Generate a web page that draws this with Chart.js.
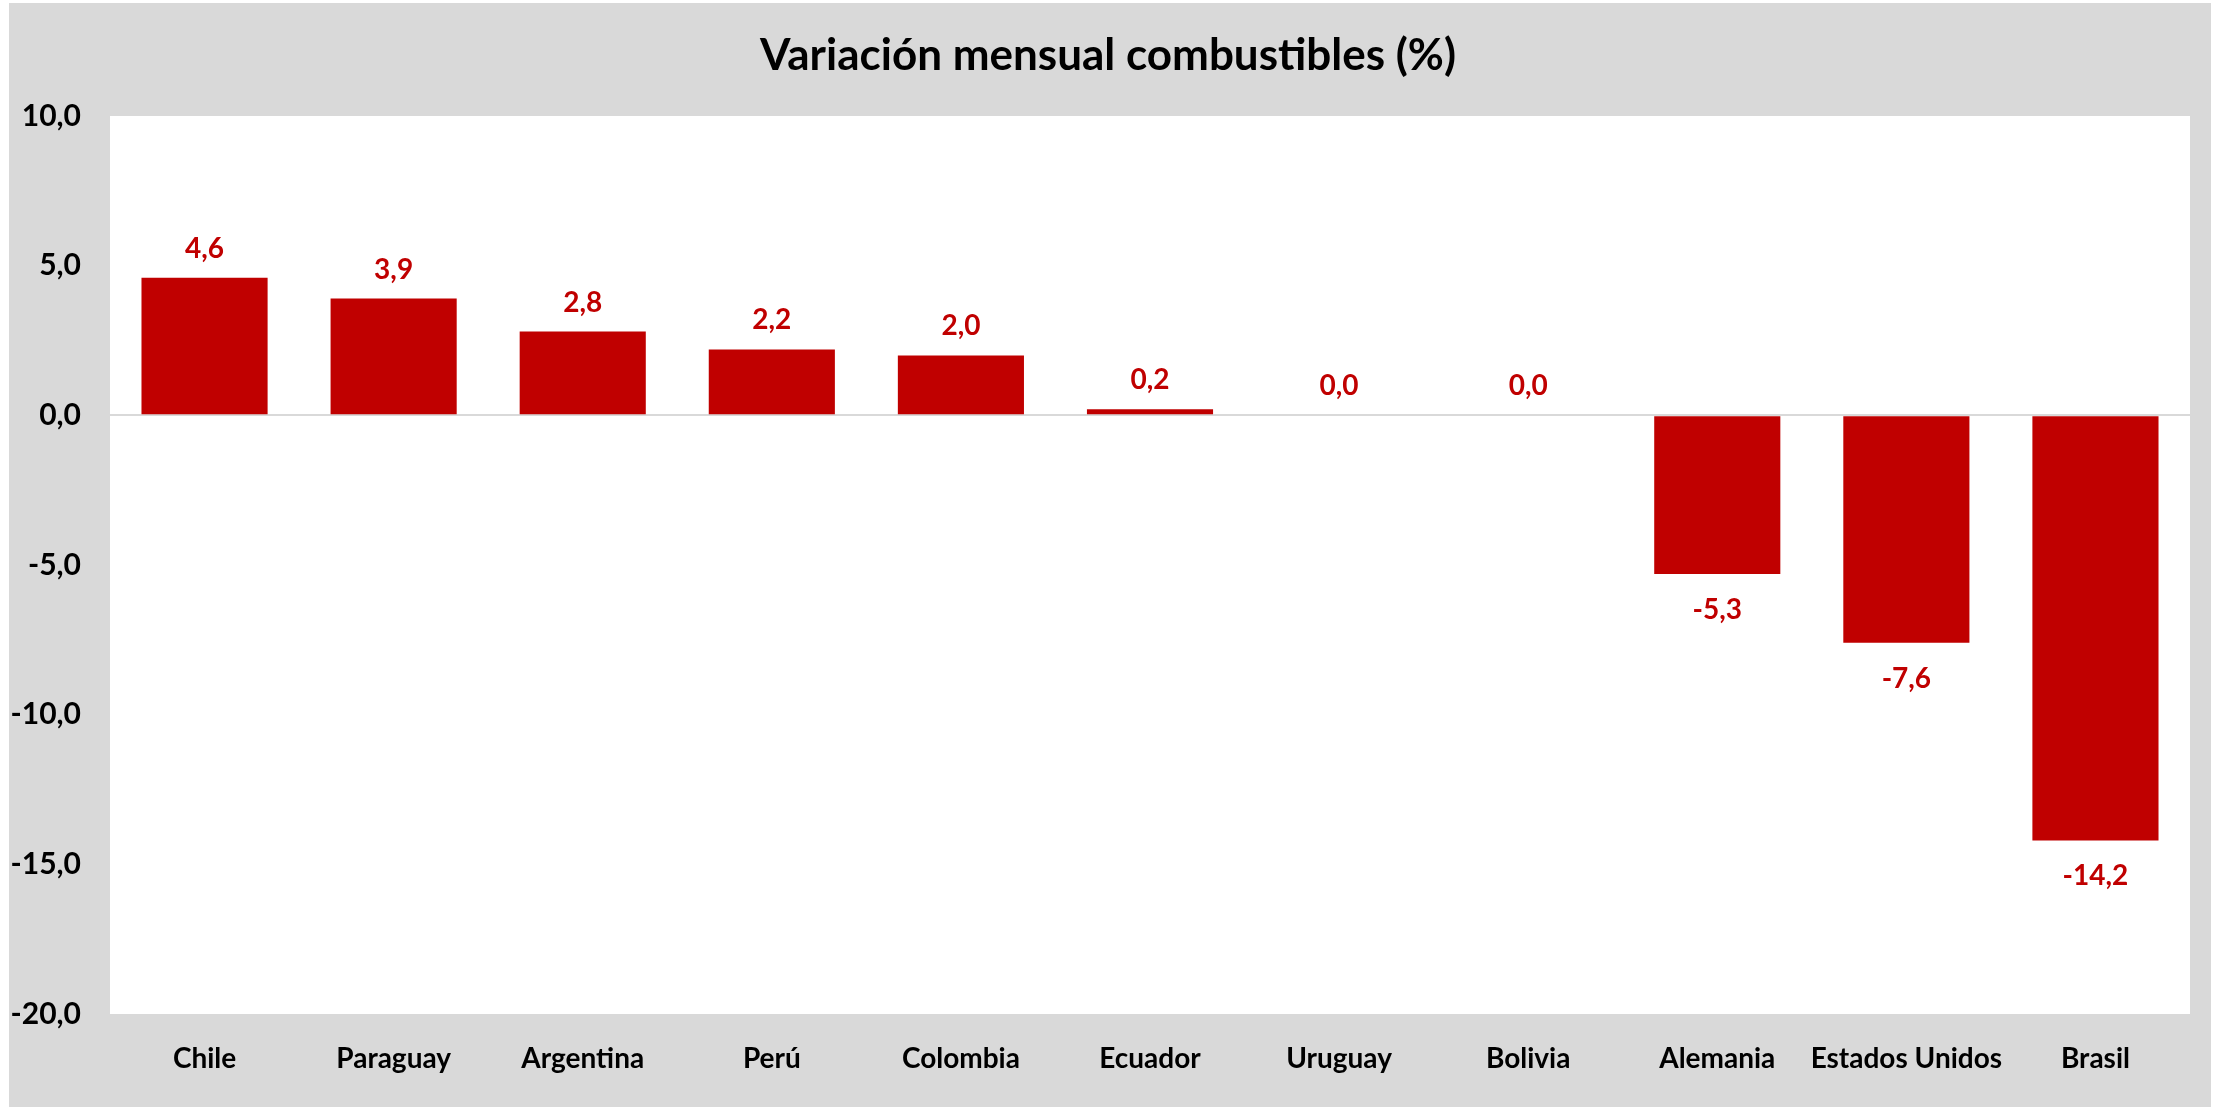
<!DOCTYPE html>
<html>
<head>
<meta charset="utf-8">
<script src="https://cdn.jsdelivr.net/npm/chart.js@4/dist/chart.umd.min.js"></script>
<style>
  html, body { margin: 0; padding: 0; background: #fff; }
  canvas { display: block; }
</style>
</head>
<body>
<canvas id="myChart" width="2216" height="1107"></canvas>
<script>
// datos
var paises = ['Chile', 'Paraguay', 'Argentina', 'Perú', 'Colombia', 'Ecuador', 'Uruguay', 'Bolivia', 'Alemania', 'Estados Unidos', 'Brasil'];
var variacion = [4.6, 3.9, 2.8, 2.2, 2.0, 0.2, 0.0, 0.0, -5.3, -7.6, -14.2];
var yMin = -20, yMax = 10, yPaso = 5;
var titulo = 'Variación mensual combustibles (%)';

var ROJO = '#c00000';
var GRIS = '#d9d9d9';
var FUENTE = 'Lato, "DejaVu Sans", sans-serif';

function coma(v) {
    return v.toFixed(1).replace('.', ',');
}

// fondo gris + area blanca + titulo centrado en la imagen
var fondo = {
    id: 'fondo',
    beforeDraw: function(chart) {
        var ctx = chart.ctx, a = chart.chartArea;
        ctx.save();
        ctx.fillStyle = '#ffffff';
        ctx.fillRect(0, 0, chart.width, chart.height);
        ctx.fillStyle = GRIS;
        ctx.fillRect(9, 3, 2202, chart.height - 3);
        ctx.fillStyle = '#ffffff';
        ctx.fillRect(a.left, a.top, a.right - a.left, a.bottom - a.top);

        ctx.fillStyle = '#000';
        ctx.font = 'bold 44px ' + FUENTE;
        ctx.textAlign = 'center';
        ctx.textBaseline = 'middle';
        ctx.fillText(titulo, chart.width / 2, 56);
        ctx.restore();
    }
};

// etiquetas de valor
var etiquetas = {
    id: 'etiquetas',
    afterDatasetsDraw: function(chart) {
        var ctx = chart.ctx;
        var meta = chart.getDatasetMeta(0);
        ctx.save();
        ctx.fillStyle = ROJO;
        ctx.font = 'bold 28px ' + FUENTE;
        ctx.textAlign = 'center';
        ctx.textBaseline = 'alphabetic';
        meta.data.forEach(function(bar, i) {
            var v = variacion[i];
            if (v >= 0) {
                ctx.fillText(coma(v), bar.x, bar.y - 20);
            } else {
                ctx.fillText(coma(v), bar.x, bar.y + 45);
            }
        });
        ctx.restore();
    }
};

var ctx = document.getElementById('myChart').getContext('2d');
var chart = new Chart(ctx, {
    type: 'bar',
    data: {
        labels: paises,
        datasets: [{
            data: variacion,
            backgroundColor: ROJO,
            borderWidth: 0,
            categoryPercentage: 1,
            barPercentage: 0.667
        }]
    },
    options: {
        responsive: false,
        animation: false,
        layout: { padding: { top: 116, right: 26, bottom: 0, left: 0 } },
        plugins: {
            legend: { display: false },
            tooltip: { enabled: false },
            title: { display: false }
        },
        scales: {
            x: {
                grid: { display: false },
                border: { display: false },
                ticks: {
                    color: '#000',
                    font: { family: FUENTE, size: 28, weight: 'bold' },
                    padding: 20,
                    maxRotation: 0,
                    autoSkip: false
                },
                afterFit: function(scale) { scale.height = 93; }
            },
            y: {
                min: yMin,
                max: yMax,
                border: { display: false },
                grid: {
                    drawTicks: false,
                    color: function(c) { return c.tick && c.tick.value === 0 ? GRIS : 'rgba(0,0,0,0)'; },
                    lineWidth: function(c) { return c.tick && c.tick.value === 0 ? 2 : 0; }
                },
                ticks: {
                    stepSize: yPaso,
                    color: '#000',
                    font: { family: FUENTE, size: 30, weight: 'bold' },
                    padding: 29,
                    callback: function(v) { return coma(v); }
                },
                afterFit: function(scale) { scale.width = 110; }
            }
        }
    },
    plugins: [fondo, etiquetas]
});
</script>
</body>
</html>
